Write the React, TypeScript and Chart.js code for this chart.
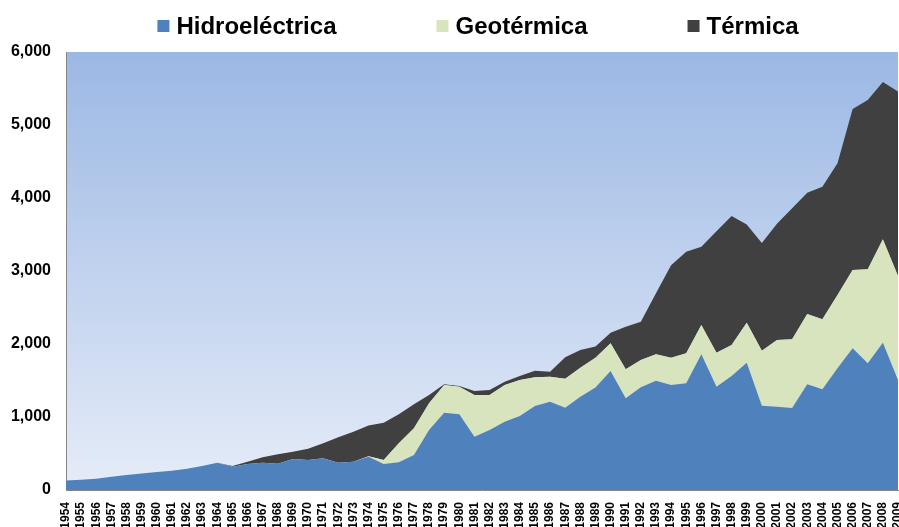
import React, { useEffect, useRef } from "react";
import { Chart, registerables } from "chart.js";

Chart.register(...registerables);

const years = [
  1954, 1955, 1956, 1957, 1958, 1959, 1960, 1961, 1962, 1963, 1964, 1965, 1966, 1967,
  1968, 1969, 1970, 1971, 1972, 1973, 1974, 1975, 1976, 1977, 1978, 1979, 1980, 1981,
  1982, 1983, 1984, 1985, 1986, 1987, 1988, 1989, 1990, 1991, 1992, 1993, 1994, 1995,
  1996, 1997, 1998, 1999, 2000, 2001, 2002, 2003, 2004, 2005, 2006, 2007, 2008, 2009,
];

const hidroelectrica = [
  130, 140, 155, 180, 205, 225, 245, 262, 290, 330, 375, 320, 356, 372,
  358, 425, 411, 434, 374, 388, 457, 356, 379, 479, 822, 1059, 1037, 731,
  822, 936, 1014, 1151, 1210, 1128, 1279, 1405, 1630, 1256, 1406, 1498, 1438, 1461,
  1858, 1416, 1562, 1744, 1155, 1142, 1123, 1447, 1379, 1667, 1941, 1735, 2018, 1507,
];

const geotermica = [
  0, 0, 0, 0, 0, 0, 0, 0, 0, 0, 0, 0, 0, 0,
  0, 0, 0, 0, 0, 0, 5, 55, 260, 366, 365, 379, 379, 570,
  479, 502, 493, 392, 343, 397, 397, 405, 379, 397, 375, 360, 375, 411,
  402, 465, 424, 548, 754, 913, 941, 964, 959, 1004, 1073, 1288, 1416, 1425,
];

const termica = [
  0, 0, 0, 0, 0, 0, 0, 0, 0, 0, 0, 10, 32, 76,
  131, 100, 155, 205, 347, 411, 420, 511, 398, 329, 114, 9, 9, 55,
  69, 46, 55, 92, 68, 292, 242, 155, 146, 584, 525, 836, 1267, 1390,
  1073, 1664, 1767, 1344, 1474, 1593, 1794, 1662, 1817, 1804, 2205, 2319, 2155, 2528,
];

const seriesLabels = ["Hidroeléctrica", "Geotérmica", "Térmica"];
const seriesColors = ["#4F81BD", "#D7E4BD", "#404040"];

const yMin = 0;
const yMax = 6000;
const yStep = 1000;

const FONT = 'Arial, "Liberation Sans", sans-serif';

export default function App() {
  const ref = useRef<HTMLCanvasElement | null>(null);

  useEffect(() => {
    const canvas = ref.current;
    if (!canvas) return;

    const bgPlugin = {
      id: "plotGradient",
      beforeDraw(chart: any) {
        const { ctx, chartArea: a } = chart;
        if (!a) return;
        const g = ctx.createLinearGradient(0, a.top, 0, a.bottom);
        g.addColorStop(0, "#9BB8E4");
        g.addColorStop(1, "#E6ECF8");
        ctx.save();
        ctx.fillStyle = g;
        ctx.fillRect(a.left, a.top, a.right - a.left, a.bottom - a.top);
        ctx.restore();
      },
    };

    const legendPlugin = {
      id: "topLegend",
      afterDraw(chart: any) {
        const { ctx, chartArea: a } = chart;
        ctx.save();
        ctx.font = `bold 24px ${FONT}`;
        ctx.textBaseline = "middle";
        ctx.textAlign = "left";
        const box = 12;
        const gapText = 7;
        const gapItem = 100;
        const datasets = chart.data.datasets;
        const widths = datasets.map(
          (ds: any) => box + gapText + ctx.measureText(ds.label).width
        );
        const total =
          widths.reduce((s: number, w: number) => s + w, 0) +
          gapItem * (widths.length - 1);
        let x = (a.left + a.right) / 2 - 4 - total / 2;
        const cy = 26;
        datasets.forEach((ds: any, i: number) => {
          ctx.fillStyle = ds.backgroundColor;
          ctx.fillRect(x, cy - 6, box, box);
          ctx.fillStyle = "#000";
          ctx.fillText(ds.label, x + box + gapText, cy + 1);
          x += widths[i] + gapItem;
        });
        ctx.restore();
      },
    };

    const series = [hidroelectrica, geotermica, termica];

    const chart = new Chart(canvas, {
      type: "line",
      data: {
        labels: years.map(String),
        datasets: series.map((d, i) => ({
          label: seriesLabels[i],
          data: d,
          backgroundColor: seriesColors[i],
          borderColor: "rgba(0,0,0,0)",
          borderWidth: 0,
          pointRadius: 0,
          tension: 0,
          fill: i === 0 ? "origin" : "-1",
        })),
      },
      options: {
        animation: false,
        responsive: false,
        maintainAspectRatio: false,
        layout: { padding: { top: 52, left: 0, right: 0, bottom: 0 } },
        plugins: {
          legend: { display: false },
          tooltip: { enabled: false },
        },
        scales: {
          x: {
            offset: false,
            grid: { display: false, drawTicks: false },
            border: { display: true, color: "#868686", width: 1 },
            ticks: {
              autoSkip: false,
              minRotation: 90,
              maxRotation: 90,
              padding: 12,
              color: "#000",
              font: { family: FONT, size: 12, weight: "bold" },
            },
            afterFit: (s: any) => {
              s.height = 37;
              s.paddingLeft = 0;
              s.paddingRight = 12;
            },
          },
          y: {
            stacked: true,
            min: yMin,
            max: yMax,
            grid: { display: false, drawTicks: false },
            border: { display: true, color: "#868686", width: 1 },
            ticks: {
              stepSize: yStep,
              padding: 15,
              color: "#000",
              font: { family: FONT, size: 16, weight: "bold" },
              callback: (v: any) => Number(v).toLocaleString("en-US"),
            },
            afterFit: (s: any) => {
              s.width = 66;
            },
          },
        },
      },
      plugins: [bgPlugin, legendPlugin],
    });

    return () => chart.destroy();
  }, []);

  return (
    <div
      style={{
        position: "absolute",
        left: 0,
        top: 0,
        width: 899,
        height: 527,
        overflow: "hidden",
        background: "#fff",
      }}
    >
      <canvas
        ref={ref}
        width={910}
        height={527}
        style={{ display: "block", width: 910, height: 527 }}
      />
    </div>
  );
}
